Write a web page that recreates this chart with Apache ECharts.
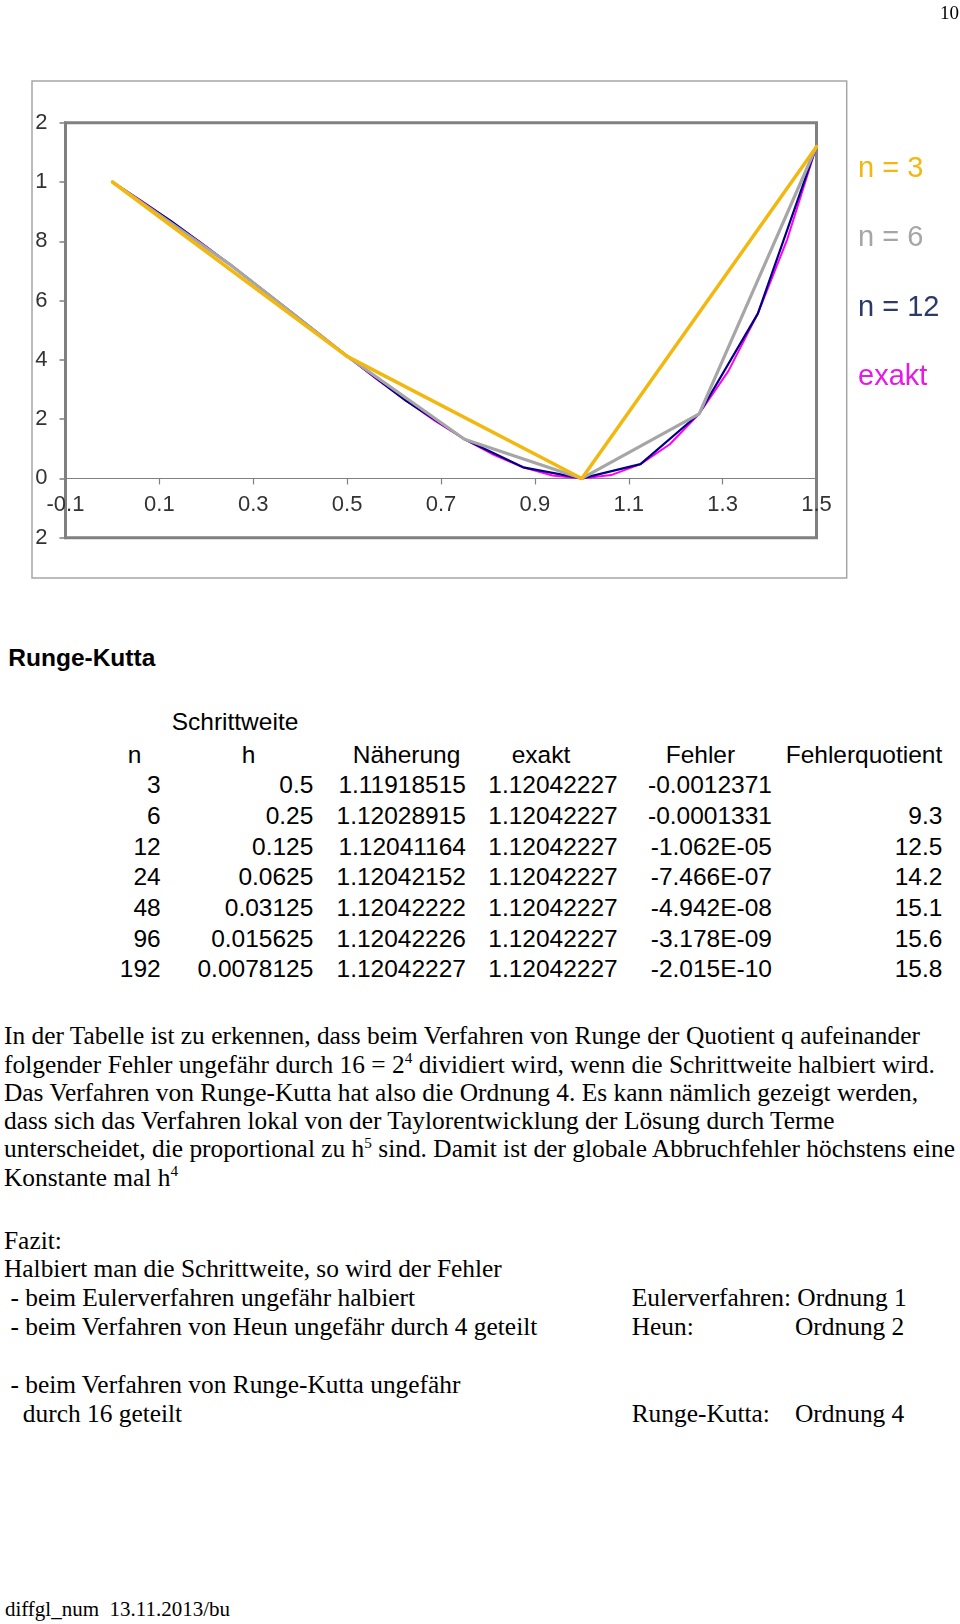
<!DOCTYPE html>
<html><head><meta charset="utf-8">
<script src="https://cdn.jsdelivr.net/npm/echarts@6/dist/echarts.min.js"></script>
<style>
html,body{margin:0;padding:0;background:#fff;}
#page{position:relative;width:960px;height:1624px;overflow:hidden;background:#fff;}
#chart{position:absolute;left:0;top:0;width:960px;height:600px;}
.t{position:absolute;white-space:pre;color:#000;}
.t sup{font-size:0.6em;vertical-align:0;position:relative;top:-0.62em;line-height:0;}
</style></head><body><div id="page"><div id="chart"></div></div>
<script>
// ---------- chart data ----------
const xN3 = [0, 0.5, 1.0, 1.5];
const yN3 = [1, 0.4117, -0.0005, 1.1192];
const xN6 = [0, 0.25, 0.5, 0.75, 1.0, 1.25, 1.5];
const yN6 = [1, 0.7221, 0.4120, 0.1322, -0.0001, 0.2180, 1.1203];
const xN12 = [0, 0.125, 0.25, 0.375, 0.5, 0.625, 0.75, 0.875, 1.0, 1.125, 1.25, 1.375, 1.5];
const yN12 = [1, 0.8676, 0.7223, 0.5684, 0.4122, 0.2627, 0.1323, 0.0375, 0.0000, 0.0481, 0.2181, 0.5561, 1.1204];
const xExakt = [0, 0.0625, 0.125, 0.1875, 0.25, 0.3125, 0.375, 0.4375, 0.5, 0.5625, 0.625, 0.6875, 0.75,
                0.8125, 0.875, 0.9375, 1.0, 1.0625, 1.125, 1.1875, 1.25, 1.3125, 1.375, 1.4375, 1.5];
const yExakt = [1, 0.9356, 0.8676, 0.7963, 0.7223, 0.6460, 0.5684, 0.4901, 0.4122, 0.3359, 0.2627, 0.1942, 0.1323,
                0.0792, 0.0375, 0.0100, 0.0000, 0.0113, 0.0481, 0.1153, 0.2182, 0.3628, 0.5562, 0.8058, 1.1204];
const seriesNames = ['n = 3', 'n = 6', 'n = 12', 'exakt'];
const xTickValues = [-0.1, 0.1, 0.3, 0.5, 0.7, 0.9, 1.1, 1.3, 1.5];
const yMin = -0.2, yMax = 1.2, yStep = 0.2;

// ---------- table data ----------
const tableHeaders = ['n', 'h', 'Näherung', 'exakt', 'Fehler', 'Fehlerquotient'];
const tableN = ['3', '6', '12', '24', '48', '96', '192'];
const tableH = ['0.5', '0.25', '0.125', '0.0625', '0.03125', '0.015625', '0.0078125'];
const tableNaeherung = ['1.11918515', '1.12028915', '1.12041164', '1.12042152', '1.12042222', '1.12042226', '1.12042227'];
const tableExakt = ['1.12042227', '1.12042227', '1.12042227', '1.12042227', '1.12042227', '1.12042227', '1.12042227'];
const tableFehler = ['-0.0012371', '-0.0001331', '-1.062E-05', '-7.466E-07', '-4.942E-08', '-3.178E-09', '-2.015E-10'];
const tableQuotient = ['', '9.3', '12.5', '14.2', '15.1', '15.6', '15.8'];

// ---------- chart ----------
const SANS = "'Liberation Sans', Arial, sans-serif";
const SERIF = "'Liberation Serif', 'Times New Roman', serif";
const zip = (xs, ys) => xs.map((x, i) => [x, ys[i]]);
const colors = { n3: '#F2B80F', n6: '#A6A6A6', n12: '#000080', ex: '#FF00FF' };

const CH = 600, GT = 122.7, GB = 62.3;
const gridH = CH - GT - GB;
// x axis sits on y = 0: shift it up from the grid bottom by the scale position of 0
const xAxisOffset = -((0 - yMin) / (yMax - yMin)) * gridH;

const chart = echarts.init(document.getElementById('chart'), null, { renderer: 'canvas' });
chart.setOption({
  animation: false,
  backgroundColor: 'transparent',
  grid: { left: 65.5, right: 143.5, top: GT, bottom: GB, show: true, borderColor: '#808080', borderWidth: 3 },
  graphic: [{
    type: 'rect', z: -10, silent: true,
    shape: { x: 32, y: 81, width: 814.7, height: 497 },
    style: { fill: 'none', stroke: '#A6A6A6', lineWidth: 1.5 }
  }],
  legend: {
    orient: 'vertical', left: 848, top: 149.5, itemGap: 40.4, itemWidth: 0, itemHeight: 29,
    icon: 'none', selectedMode: false,
    textStyle: { fontSize: 29, lineHeight: 29, fontFamily: SANS },
    data: [
      { name: seriesNames[0], textStyle: { color: '#F2B80F' } },
      { name: seriesNames[1], textStyle: { color: '#A6A6A6' } },
      { name: seriesNames[2], textStyle: { color: '#2B3A67' } },
      { name: seriesNames[3], textStyle: { color: '#E619E6' } }
    ]
  },
  xAxis: {
    type: 'value', min: -0.1, max: 1.5, position: 'bottom', offset: xAxisOffset,
    axisLine: { onZero: false, lineStyle: { color: '#808080', width: 1.2 } },
    axisTick: { customValues: xTickValues, length: 6, lineStyle: { color: '#808080', width: 1.2 } },
    axisLabel: { customValues: xTickValues, fontSize: 22, fontFamily: SANS, color: '#333', margin: 16,
      formatter: v => String(Math.round(v * 10) / 10) },
    splitLine: { show: false }
  },
  yAxis: {
    type: 'value', min: yMin, max: yMax, interval: yStep,
    axisLine: { show: true, onZero: false, lineStyle: { color: '#808080', width: 3 } },
    axisTick: { show: true, length: 6, lineStyle: { color: '#808080', width: 1.5 } },
    axisLabel: { fontSize: 22, fontFamily: SANS, color: '#333', margin: 18,
      formatter: v => { const s = String(Math.round(v * 10) / 10); return s.charAt(s.length - 1); } },
    splitLine: { show: false }
  },
  series: [
    { name: seriesNames[3], type: 'line', data: zip(xExakt, yExakt), showSymbol: false, color: colors.ex,
      lineStyle: { width: 2, color: colors.ex, join: 'round', cap: 'round' } },
    { name: seriesNames[2], type: 'line', data: zip(xN12, yN12), showSymbol: false, color: colors.n12,
      lineStyle: { width: 2.2, color: colors.n12, join: 'round', cap: 'round' } },
    { name: seriesNames[1], type: 'line', data: zip(xN6, yN6), showSymbol: false, color: colors.n6,
      lineStyle: { width: 3.2, color: colors.n6, join: 'round', cap: 'round' } },
    { name: seriesNames[0], type: 'line', data: zip(xN3, yN3), showSymbol: false, color: colors.n3,
      lineStyle: { width: 3.5, color: colors.n3, join: 'round', cap: 'round' } }
  ]
});

// ---------- text helpers ----------
const page = document.getElementById('page');
function place(html, x, baseline, size, family, opts) {
  opts = opts || {};
  const d = document.createElement('div');
  d.className = 't';
  const k = family === SERIF ? 0.8375 : 0.8465;
  d.style.top = (baseline - k * size) + 'px';
  d.style.fontSize = size + 'px';
  d.style.lineHeight = size + 'px';
  d.style.fontFamily = family;
  if (opts.bold) d.style.fontWeight = 'bold';
  if (opts.right) { d.style.right = (960 - x) + 'px'; d.style.textAlign = 'right'; }
  else d.style.left = x + 'px';
  d.innerHTML = html;
  page.appendChild(d);
}

// page number
place('10', 959, 18.5, 19, SERIF, { right: true });

// heading + table
const TF = 24.5;
place('Runge-Kutta', 8.3, 666.7, TF, SANS, { bold: true });
place('Schrittweite', 171.7, 730.7, TF, SANS);
const headerLeft = [127.7, 241.7, 352.7, 511.7, 665.7];
headerLeft.forEach((x, i) => place(tableHeaders[i], x, 764, TF, SANS));
place(tableHeaders[5], 942.3, 764, TF, SANS, { right: true });
const colRight = [160.7, 313.3, 466, 617.7, 772, 942.3];
const cols = [tableN, tableH, tableNaeherung, tableExakt, tableFehler, tableQuotient];
cols.forEach((col, c) => col.forEach((v, r) => {
  if (v !== '') place(v, colRight[c], 794 + r * 30.7, TF, SANS, { right: true });
}));

// paragraph
const PF = 25.4;
const para = [
  'In der Tabelle ist zu erkennen, dass beim Verfahren von Runge der Quotient q aufeinander',
  'folgender Fehler ungefähr durch 16 = 2<sup>4</sup> dividiert wird, wenn die Schrittweite halbiert wird.',
  'Das Verfahren von Runge-Kutta hat also die Ordnung 4. Es kann nämlich gezeigt werden,',
  'dass sich das Verfahren lokal von der Taylorentwicklung der Lösung durch Terme',
  'unterscheidet, die proportional zu h<sup>5</sup> sind. Damit ist der globale Abbruchfehler höchstens eine',
  'Konstante mal h<sup>4</sup>'
];
para.forEach((l, i) => place(l, 4, 1044.5 + i * 28.3, PF, SERIF));

// Fazit
place('Fazit:', 4, 1249.3, PF, SERIF);
place('Halbiert man die Schrittweite, so wird der Fehler', 4, 1277.7, PF, SERIF);
place('- beim Eulerverfahren ungefähr halbiert', 10.4, 1306.7, PF, SERIF);
place('Eulerverfahren: Ordnung 1', 631.7, 1306.7, PF, SERIF);
place('- beim Verfahren von Heun ungefähr durch 4 geteilt', 10.4, 1335.5, PF, SERIF);
place('Heun:', 631.7, 1335.5, PF, SERIF);
place('Ordnung 2', 795, 1335.5, PF, SERIF);
place('- beim Verfahren von Runge-Kutta ungefähr', 10.4, 1393.5, PF, SERIF);
place('durch 16 geteilt', 22.8, 1422.5, PF, SERIF);
place('Runge-Kutta:', 631.7, 1422.5, PF, SERIF);
place('Ordnung 4', 795, 1422.5, PF, SERIF);

// footer
place('diffgl_num  13.11.2013/bu', 4.9, 1617, 21, SERIF);
</script></body></html>
